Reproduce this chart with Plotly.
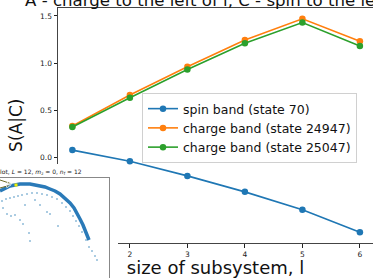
import plotly.graph_objects as go

# ---------------- main chart data ----------------
subsystem_size = [1, 2, 3, 4, 5, 6]
spin_70 = [0.074, -0.045, -0.20, -0.37, -0.56, -0.80]
charge_24947 = [0.33, 0.66, 0.96, 1.245, 1.47, 1.23]
charge_25047 = [0.32, 0.63, 0.93, 1.21, 1.43, 1.18]
series_names = ["spin band (state 70)", "charge band (state 24947)", "charge band (state 25047)"]
series_colors = ["#1f77b4", "#ff7f0e", "#2ca02c"]
y_ticks = [-0.5, 0.0, 0.5, 1.0, 1.5]
x_ticks = [1, 2, 3, 4, 5, 6]

# ---------------- inset data (arbitrary units) ----------------
band_x = [0.00, 0.05, 0.10, 0.15, 0.20, 0.25, 0.30, 0.35, 0.40, 0.45, 0.50, 0.55,
          0.60, 0.65, 0.70, 0.74, 0.77, 0.80, 0.83, 0.85, 0.87, 0.89]
band_y = [0.87, 0.90, 0.92, 0.93, 0.94, 0.94, 0.94, 0.93, 0.92, 0.91, 0.89, 0.87,
          0.84, 0.80, 0.75, 0.70, 0.65, 0.59, 0.53, 0.48, 0.43, 0.38]
sparse_x = [0.02, 0.06, 0.10, 0.14, 0.18, 0.22, 0.27, 0.32, 0.37, 0.42, 0.47, 0.52, 0.57,
            0.03, 0.07, 0.11, 0.15, 0.20, 0.23, 0.29, 0.30, 0.47, 0.50, 0.58, 0.62, 0.66,
            0.70, 0.73, 0.76, 0.79, 0.82, 0.86, 0.89, 0.92, 0.95, 0.97, 0.40, 0.35, 0.25]
sparse_y = [0.77, 0.79, 0.80, 0.81, 0.82, 0.83, 0.84, 0.85, 0.85, 0.84, 0.83, 0.81, 0.79,
            0.70, 0.64, 0.62, 0.63, 0.58, 0.54, 0.45, 0.37, 0.66, 0.64, 0.52, 0.75, 0.71,
            0.67, 0.62, 0.57, 0.52, 0.46, 0.38, 0.31, 0.27, 0.22, 0.18, 0.73, 0.78, 0.73]
marked_x = [0.16]
marked_y = [0.93]
arrow_tail_x = [0.00, 0.00]
arrow_tail_y = [0.98, 0.90]
arrow_head_x = [0.12, 0.11]
arrow_head_y = [0.94, 0.93]

W, H = 373, 278
FONT = "DejaVu Sans"

fig = go.Figure()
for name, vals, col in zip(series_names, [spin_70, charge_24947, charge_25047], series_colors):
    fig.add_trace(go.Scatter(x=subsystem_size, y=vals, name=name, mode="lines+markers",
                             line=dict(color=col, width=1.6),
                             marker=dict(color=col, size=6.5),
                             xaxis="x", yaxis="y"))

# cover subplot (white background hiding the lower-left of the main axes)
fig.add_trace(go.Scatter(x=[], y=[], xaxis="x2", yaxis="y2", showlegend=False))

# inset
fig.add_trace(go.Scatter(x=band_x, y=band_y, mode="lines", line=dict(color="#2a7ab8", width=3.5),
                         xaxis="x3", yaxis="y3", showlegend=False))
fig.add_trace(go.Scatter(x=sparse_x, y=sparse_y, mode="markers",
                         marker=dict(color="#1f77b4", size=2, opacity=0.5),
                         xaxis="x3", yaxis="y3", showlegend=False))
for tx, ty, hx, hy in zip(arrow_tail_x, arrow_tail_y, arrow_head_x, arrow_head_y):
    fig.add_trace(go.Scatter(x=[tx, hx], y=[ty, hy], mode="lines+markers",
                             line=dict(color="#6b6b2a", width=1),
                             marker=dict(color="#6b6b2a", size=[0, 5], symbol="arrow",
                                         angleref="previous"),
                             xaxis="x3", yaxis="y3", showlegend=False))
fig.add_trace(go.Scatter(x=marked_x, y=marked_y, mode="markers",
                         marker=dict(color="#f0f000", size=3, symbol="square"),
                         xaxis="x3", yaxis="y3", showlegend=False))

annotations = [dict(x=84 / W, y=(H - 172) / H, xref="paper", yref="paper", xanchor="right",
                    yanchor="middle", showarrow=False,
                    text="Typical plot, <i>L</i> = 12, <i>m</i><sub>z</sub> = 0, <i>n</i><sub>f</sub> = 12",
                    font=dict(family=FONT, size=6, color="#222"))]

axis_common = dict(showgrid=False, zeroline=False, showline=True, linecolor="#444", linewidth=1,
                   ticks="outside", ticklen=3.5, tickwidth=0.8, tickcolor="#222",
                   tickfont=dict(family=FONT, size=7.5, color="#222"))

fig.update_layout(
    width=W, height=H,
    margin=dict(l=0, r=0, t=0, b=0, pad=0, autoexpand=False),
    paper_bgcolor="white", plot_bgcolor="white",
    font=dict(family=FONT, color="#111"),
    title=dict(text="A - charge to the left of l, C - spin to the left of l",
               font=dict(family=FONT, size=16.6, color="#111"),
               xref="paper", x=25 / W, xanchor="left",
               yref="container", y=1.0, yanchor="middle"),
    xaxis=dict(domain=[58 / W, 1.0], range=[0.75, 6.228], tickvals=x_ticks,
               mirror=True, anchor="y",
               title=dict(text="size of subsystem, l", font=dict(family=FONT, size=18, color="#111"),
                          standoff=2),
               **axis_common),
    yaxis=dict(domain=[35 / H, (H - 7.5) / H], range=[-0.9135, 1.59], tickvals=y_ticks,
               tickformat=".1f", anchor="x",
               title=dict(text="S(A|C)", font=dict(family=FONT, size=17, color="#111"),
                          standoff=6),
               **axis_common),
    xaxis2=dict(domain=[0, 118 / W], visible=False, anchor="y2", range=[0, 1]),
    yaxis2=dict(domain=[0, (H - 164) / H], visible=False, anchor="x2", range=[0, 1]),
    xaxis3=dict(domain=[0, 109 / W], range=[0, 1.09], anchor="y3", side="top",
                showline=True, linecolor="#888", linewidth=1, showticklabels=False,
                ticks="", showgrid=False, zeroline=False),
    yaxis3=dict(domain=[0, (H - 178) / H], range=[0, 1.0], anchor="x3", side="right",
                showline=True, linecolor="#888", linewidth=1, showticklabels=False,
                ticks="", showgrid=False, zeroline=False),
    legend=dict(x=142 / W, y=1 - 93 / H, xanchor="left", yanchor="top",
                bgcolor="rgba(255,255,255,0.85)", bordercolor="#d0d0d0", borderwidth=1,
                font=dict(family=FONT, size=12.5, color="#111"), tracegroupgap=0),
    annotations=annotations,
    showlegend=True,
)

fig.write_html("out.html", config={"displayModeBar": False},
               post_script="document.body.style.margin='0px';")
